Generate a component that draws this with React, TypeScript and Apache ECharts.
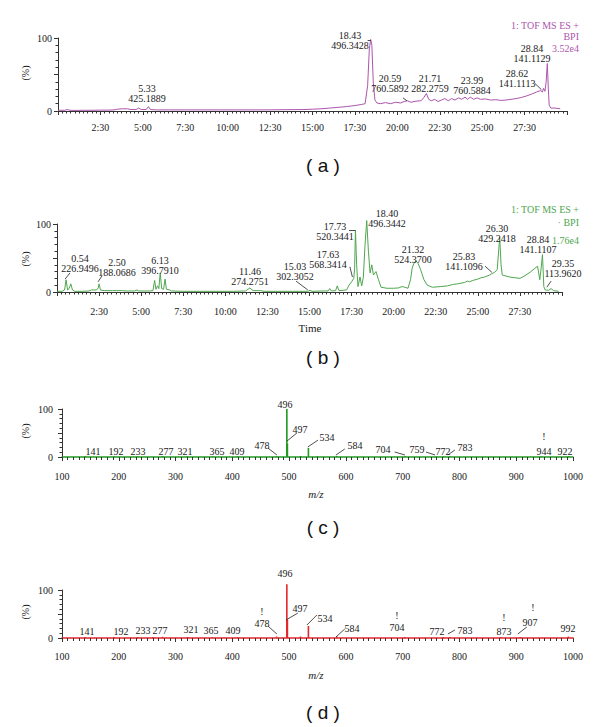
import React, { useEffect, useRef } from "react";
import * as echarts from "echarts";

// ---------- data ----------
// (a) chromatogram, BPI: [time (min), relative intensity %]
const chromA: [number, number][] = [
  [0, 1], [0.4, 1], [0.55, 2], [0.7, 1], [1.0, 0.8], [1.5, 1], [2.0, 1], [2.5, 1.2], [3.0, 1.2], [3.3, 1.5],
  [3.5, 2.5], [3.8, 3], [4.1, 3], [4.3, 2], [4.6, 2], [4.75, 4], [4.9, 2], [5.2, 2], [5.33, 6], [5.45, 2],
  [5.8, 1.5], [6.5, 1.5], [7.5, 1.5], [8.5, 1.5], [9.5, 1.5], [10.5, 1.5], [11.5, 1.5], [12.5, 1.6], [13.5, 1.8],
  [14.5, 2], [15.0, 2.5], [15.5, 3], [16.0, 4], [16.5, 5], [17.0, 6], [17.5, 7.5], [17.9, 9], [18.1, 10],
  [18.25, 35], [18.35, 85], [18.43, 98], [18.5, 90], [18.58, 40], [18.68, 15], [18.8, 11], [19.0, 10],
  [19.3, 11.5], [19.6, 10], [19.9, 12], [20.2, 11], [20.4, 13], [20.59, 14], [20.8, 12], [21.1, 13.5],
  [21.4, 14], [21.55, 18], [21.71, 24], [21.85, 16], [22.0, 14], [22.2, 16], [22.4, 13], [22.6, 15],
  [22.8, 17], [23.0, 14], [23.2, 17], [23.4, 15], [23.6, 18], [23.8, 16], [23.99, 19], [24.15, 16],
  [24.3, 19], [24.5, 16], [24.7, 18], [24.9, 16], [25.2, 16.5], [25.5, 15], [25.8, 15.5], [26.1, 14.5],
  [26.4, 15], [26.7, 16], [27.0, 17], [27.3, 18.5], [27.6, 20.5], [27.9, 23], [28.2, 26], [28.45, 28],
  [28.55, 26], [28.62, 31], [28.7, 27], [28.77, 40], [28.84, 65], [28.9, 30], [28.95, 8], [29.05, 4],
  [29.3, 4], [29.6, 3],
];

// (b) chromatogram, BPI
const chromB: [number, number][] = [
  [0, 1], [0.3, 1], [0.45, 3], [0.54, 18], [0.63, 3], [0.72, 5], [0.82, 12], [0.92, 3], [1.05, 1], [1.5, 1],
  [1.9, 1.5], [2.05, 3], [2.35, 3], [2.45, 6], [2.5, 12], [2.58, 3], [2.8, 2], [3.3, 2], [3.9, 2], [4.1, 1.5],
  [4.6, 1.5], [4.75, 3], [4.85, 1.5], [5.5, 1.5], [5.7, 2], [5.8, 17], [5.88, 4], [5.97, 9], [6.05, 5],
  [6.13, 28], [6.22, 5], [6.33, 4], [6.42, 19], [6.5, 4], [6.7, 3], [6.8, 1.5], [7.5, 1], [8.5, 1], [9.5, 1],
  [10.5, 1], [11.2, 1.5], [11.46, 6], [11.65, 2], [12.1, 2], [12.3, 1], [13.0, 1], [14.0, 1], [14.9, 1],
  [15.03, 2.5], [15.15, 1], [15.8, 1.5], [16.1, 1.5], [16.2, 5], [16.3, 1.5], [16.55, 2], [16.65, 9],
  [16.75, 2], [17.2, 3], [17.35, 10], [17.5, 15], [17.63, 20], [17.68, 35], [17.73, 91], [17.8, 40],
  [17.88, 8], [18.0, 22], [18.1, 9], [18.2, 22], [18.3, 70], [18.4, 105], [18.5, 60], [18.6, 28], [18.7, 40],
  [18.8, 25], [18.95, 30], [19.1, 18], [19.25, 7], [19.6, 5.5], [20.0, 5.5], [20.3, 6], [20.5, 8],
  [20.65, 7], [20.85, 5.5], [21.0, 18], [21.1, 35], [21.2, 42], [21.32, 46], [21.45, 42], [21.6, 33],
  [21.8, 18], [22.0, 10], [22.3, 7], [22.8, 8], [23.2, 9], [23.5, 11], [23.8, 12], [24.0, 13], [24.2, 14],
  [24.4, 16], [24.5, 15], [24.7, 17], [25.0, 19], [25.2, 21], [25.4, 22], [25.7, 25], [25.83, 27],
  [26.0, 29], [26.15, 33], [26.3, 80], [26.38, 40], [26.45, 25], [26.9, 22], [27.2, 21], [27.5, 20],
  [27.8, 24], [28.1, 29], [28.35, 34], [28.55, 38], [28.68, 18], [28.76, 35], [28.84, 55], [28.92, 8],
  [29.0, 3], [29.2, 2.5], [29.35, 5], [29.5, 2], [29.8, 1],
];

// (c) mass spectrum
const specCMz = [141, 192, 233, 277, 321, 365, 409, 478, 496, 497, 520, 534, 550, 584, 704, 759, 772, 783, 944, 992];
const specCInt = [2, 1.5, 1.5, 2, 1.5, 1.5, 1.5, 2, 100, 28, 2, 19, 1.5, 2, 1.5, 1, 1.5, 1.5, 1.5, 2];

// (d) mass spectrum
const specDMz = [141, 192, 233, 260, 277, 321, 365, 409, 478, 496, 497, 520, 534, 584, 704, 772, 783, 873, 907, 992];
const specDInt = [2, 2, 2, 2, 2.5, 2, 1.5, 2, 3, 112, 38, 3, 25, 3, 2, 2, 2, 2, 2, 3];

// peak annotations: [x, y (data units, text centre), text]
const annA: [number, number, string][] = [
  [5.24, 24, "5.33\n425.1889"],
  [17.2, 97, "18.43\n496.3428"],
  [19.56, 37.7, "20.59\n760.5892"],
  [21.9, 37.7, "21.71\n282.2759"],
  [24.4, 35, "23.99\n760.5884"],
  [27.05, 45, "28.62\n141.1113"],
  [27.93, 80, "28.84\n141.1129"],
];
const leadA: [number, number][][] = [
  [[18.25, 97.5], [18.43, 97.5]],
  [[20.33, 18], [20.57, 14]],
  [[28.1, 38], [28.5, 29]],
];

const annB: [number, number, string][] = [
  [1.37, 42, "0.54\n226.9496"],
  [3.57, 37.5, "2.50\n188.0686"],
  [6.12, 40, "6.13\n396.7910"],
  [11.47, 23, "11.46\n274.2751"],
  [14.14, 31.6, "15.03\n302.3052"],
  [16.1, 48.5, "17.63\n568.3414"],
  [16.52, 89, "17.73\n520.3441"],
  [19.6, 109, "18.40\n496.3442"],
  [21.15, 56.6, "21.32\n524.3700"],
  [24.18, 45.6, "25.83\n141.1096"],
  [26.14, 86.8, "26.30\n429.2418"],
  [28.58, 71.3, "28.84\n141.1107"],
  [30.07, 34.6, "29.35\n113.9620"],
];
const leadB: [number, number][][] = [
  [[0.48, 19], [0.77, 28]],
  [[2.44, 15], [2.67, 23.5]],
  [[14.2, 16], [14.9, 3]],
  [[17.4, 37], [17.55, 22]],
  [[17.35, 91], [17.73, 91]],
  [[18.2, 105], [18.4, 105]],
  [[25.43, 38], [25.83, 29]],
  [[29.1, 7], [29.35, 16]],
];

const annC: [number, number, string][] = [
  [154.6, 12.5, "141"], [195, 12.5, "192"], [233.8, 12.5, "233"], [283, 12.5, "277"], [316.5, 12.5, "321"],
  [373, 12.5, "365"], [408, 12.5, "409"], [452, 25, "478"], [492.6, 110, "496"], [519, 58, "497"],
  [566.5, 41.7, "534"], [616, 25, "584"], [665, 16.7, "704"], [725, 16.7, "759"], [771, 12.5, "772"],
  [809.5, 20.8, "783"], [948.6, 43, "!"], [948.6, 12.5, "944"], [985.6, 12.5, "922"],
];
const leadC: [number, number][][] = [
  [[462.7, 18.75], [478.5, 4.2]],
  [[496, 33], [513.7, 50]],
  [[533, 21], [550.7, 35]],
  [[582.4, 4], [598, 16.7]],
  [[686, 10.4], [704, 4.2]],
  [[741, 10.4], [757, 4.2]],
  [[779.6, 4.2], [792, 14.6]],
];

const annD: [number, number, string][] = [
  [144, 14.6, "141"], [203.9, 14.6, "192"], [242.6, 16.7, "233"], [272.5, 16.7, "277"], [327, 18.75, "321"],
  [362, 16.7, "365"], [401, 16.7, "409"], [452, 56, "!"], [452, 31, "478"], [492.6, 135, "496"],
  [519, 62.5, "497"], [563, 41.7, "534"], [610.6, 20.8, "584"], [689.8, 47, "!"], [689.8, 23, "704"],
  [760, 14.6, "772"], [809.5, 16.7, "783"], [878, 44, "!"], [878, 14.6, "873"], [929, 64, "!"],
  [924, 33, "907"], [990.8, 20.8, "992"],
];
const leadD: [number, number][][] = [
  [[462.7, 25], [478.5, 8.3]],
  [[494.4, 37.5], [515.5, 52]],
  [[531.3, 27], [549, 48]],
  [[582.4, 2], [598, 18.75]],
  [[779.6, 8.3], [792, 16.7]],
  [[902.8, 8.3], [918.7, 23]],
];

// ---------- styling ----------
const SERIF = '"Liberation Serif", "Times New Roman", serif';
const SANS = '"Liberation Sans", Arial, sans-serif';
const PURPLE = "#ad55ad";
const GREEN_B = "#4fa64f";
const GREEN_C = "#1f9a1f";
const RED = "#e3262b";
const INK = "#1a1a1a";

function fmtTime(v: number) {
  if (v <= 0.01 || v >= 29.99) return "";
  const m = Math.floor(v + 1e-9);
  const s = Math.round((v - m) * 60);
  return `${m}:${String(s).padStart(2, "0")}`;
}

function timeAxis(gridIndex: number, margin: number) {
  return {
    type: "value", gridIndex, min: 0, max: 30, interval: 2.5,
    axisLine: { show: true, lineStyle: { color: "#333", width: 1 } },
    axisTick: { show: true, length: 4, lineStyle: { color: "#333" } },
    minorTick: { show: true, splitNumber: 10, length: 2.5, lineStyle: { color: "#333" } },
    splitLine: { show: false },
    axisLabel: { formatter: fmtTime, fontFamily: SERIF, fontSize: 10, color: INK, margin },
  };
}
function mzAxis(gridIndex: number, color: string, margin: number) {
  return {
    type: "value", gridIndex, min: 100, max: 1000, interval: 100,
    axisLine: { show: true, lineStyle: { color, width: 1.5 } },
    axisTick: { show: true, length: 4, lineStyle: { color: "#333" } },
    minorTick: { show: true, splitNumber: 10, length: 3, lineStyle: { color: "#333" } },
    splitLine: { show: false },
    axisLabel: { formatter: (v: number) => String(v), fontFamily: SERIF, fontSize: 10, color: INK, margin },
  };
}
function pctAxis(gridIndex: number, margin: number) {
  return {
    type: "value", gridIndex, min: 0, max: 100, interval: 50,
    axisLine: { show: true, lineStyle: { color: "#333", width: 1 } },
    axisTick: { show: true, length: 4, lineStyle: { color: "#333" } },
    minorTick: { show: true, splitNumber: 5, length: 2.5, lineStyle: { color: "#333" } },
    splitLine: { show: false },
    axisLabel: {
      formatter: (v: number) => (v === 50 ? "" : String(v)),
      fontFamily: SERIF, fontSize: 10, color: INK, margin,
    },
  };
}

// annotation texts placed through the axes' own coordinate conversion
function annSeries(idx: number, ann: [number, number, string][]) {
  return {
    type: "custom", xAxisIndex: idx, yAxisIndex: idx, silent: true, clip: false,
    data: ann.map(([x, y]) => [x, y]),
    renderItem: (params: any, api: any) => {
      const p = api.coord([api.value(0), api.value(1)]);
      return {
        type: "text",
        x: Math.round(p[0]),
        y: Math.round(p[1]),
        style: {
          text: ann[params.dataIndex][2],
          fill: INK,
          font: `10px ${SERIF}`,
          lineHeight: 10,
          textAlign: "center",
          textVerticalAlign: "middle",
        },
      };
    },
    z: 5,
  };
}
function leadSeries(idx: number, lead: [number, number][][]) {
  return {
    type: "lines", coordinateSystem: "cartesian2d", xAxisIndex: idx, yAxisIndex: idx, silent: true,
    data: lead.map((c) => ({ coords: c })),
    lineStyle: { color: "#222", width: 0.8, opacity: 1 },
    symbol: "none", z: 5,
  };
}

function txt(x: number, y: number, text: string, fill: string, font: string, align = "center") {
  return {
    type: "text", x, y, silent: true,
    style: { text, fill, font, textAlign: align, textVerticalAlign: "middle" },
  };
}
function vtxt(x: number, y: number) {
  return {
    type: "text", x, y, rotation: Math.PI / 2, silent: true,
    style: { text: "(%)", fill: INK, font: `10px ${SERIF}`, textAlign: "center", textVerticalAlign: "middle" },
  };
}

export default function App() {
  const ref = useRef<HTMLDivElement>(null);
  useEffect(() => {
    const chart = echarts.init(ref.current!, null, { renderer: "svg" });
    const option: any = {
      animation: false,
      backgroundColor: "#ffffff",
      grid: [
        { left: 58, top: 38, width: 509, height: 73 },
        { left: 57, top: 224, width: 505, height: 68 },
        { left: 62, top: 409, width: 511, height: 48 },
        { left: 62, top: 590, width: 511, height: 48 },
      ],
      xAxis: [timeAxis(0, 11), timeAxis(1, 14), mzAxis(2, GREEN_C, 14), mzAxis(3, RED, 13)],
      yAxis: [pctAxis(0, 6), pctAxis(1, 6), pctAxis(2, 9), pctAxis(3, 9)],
      series: [
        {
          type: "line", xAxisIndex: 0, yAxisIndex: 0, data: chromA, showSymbol: false, clip: false,
          lineStyle: { color: PURPLE, width: 1 }, itemStyle: { color: PURPLE },
        },
        {
          type: "line", xAxisIndex: 1, yAxisIndex: 1, data: chromB, showSymbol: false, clip: false,
          lineStyle: { color: GREEN_B, width: 1 }, itemStyle: { color: GREEN_B },
        },
        {
          type: "bar", xAxisIndex: 2, yAxisIndex: 2, barWidth: 1.6, clip: false,
          data: specCMz.map((m, i) => [m, specCInt[i]]), itemStyle: { color: GREEN_C },
        },
        {
          type: "bar", xAxisIndex: 3, yAxisIndex: 3, barWidth: 1.6, clip: false,
          data: specDMz.map((m, i) => [m, specDInt[i]]), itemStyle: { color: RED },
        },
        annSeries(0, annA), annSeries(1, annB), annSeries(2, annC), annSeries(3, annD),
        leadSeries(0, leadA), leadSeries(1, leadB), leadSeries(2, leadC), leadSeries(3, leadD),
      ],
      graphic: [
        txt(579, 25, "1: TOF MS ES +", PURPLE, `10px ${SERIF}`, "right"),
        txt(579, 36, "BPI", PURPLE, `10px ${SERIF}`, "right"),
        txt(579, 48, "3.52e4", PURPLE, `10px ${SERIF}`, "right"),
        txt(579, 209, "1: TOF MS ES +", GREEN_B, `10px ${SERIF}`, "right"),
        txt(579, 222, "· BPI", GREEN_B, `10px ${SERIF}`, "right"),
        txt(579, 240, "1.76e4", GREEN_B, `10px ${SERIF}`, "right"),
        vtxt(25, 73), vtxt(25, 259), vtxt(25, 431), vtxt(25, 612),
        txt(310, 328, "Time", INK, `11px ${SERIF}`),
        txt(316, 494, "m/z", INK, `italic 11px ${SERIF}`),
        txt(316, 675, "m/z", INK, `italic 11px ${SERIF}`),
        txt(323, 165, "( a )", "#111", `19px ${SANS}`),
        txt(323, 357, "( b )", "#111", `19px ${SANS}`),
        txt(323, 527, "( c )", "#111", `19px ${SANS}`),
        txt(323, 712, "( d )", "#111", `19px ${SANS}`),
      ],
    };
    chart.setOption(option);
    return () => chart.dispose();
  }, []);
  return (
    <div
      ref={ref}
      style={{ position: "absolute", left: 0, top: 0, width: 600, height: 727, background: "#fff" }}
    />
  );
}
